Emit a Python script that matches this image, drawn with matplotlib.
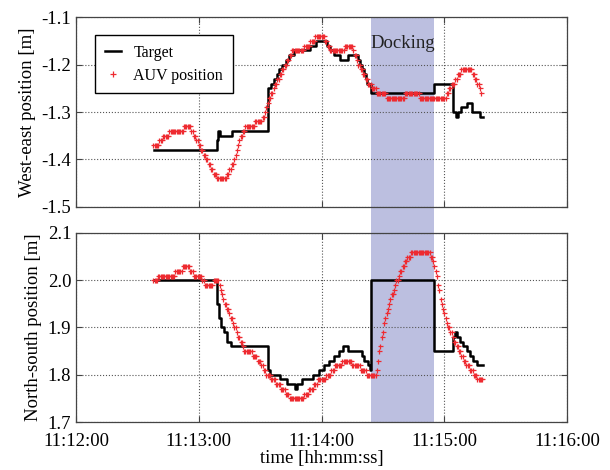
#!/usr/bin/env python3

import numpy as np
import matplotlib
matplotlib.use('Agg')
import matplotlib.pyplot as plt
from matplotlib.patches import Rectangle
from matplotlib.transforms import blended_transform_factory

plt.rcParams['font.family'] = ['Liberation Serif', 'DejaVu Serif']
plt.rcParams['axes.unicode_minus'] = False

# time axis: seconds after 11:12:00
TICK_SECONDS = [0, 60, 120, 180, 240]
TICK_LABELS = ['11:12:00', '11:13:00', '11:14:00', '11:15:00', '11:16:00']
DOCK_START = 144.2
DOCK_END = 175.0

# AUV position log: sampled every 0.6 s from 37.8 s, stored as
# (level, number of consecutive samples at that level)
AUV_T0 = 37.8
AUV_DT = 0.6
we_level = [
    -1.37, -1.36, -1.35, -1.34, -1.33, -1.34, -1.35, -1.36, -1.37, -1.38,
    -1.39, -1.40, -1.41, -1.42, -1.43, -1.44, -1.43, -1.42, -1.41, -1.40,
    -1.39, -1.38, -1.37, -1.36, -1.35, -1.34, -1.33, -1.32, -1.31, -1.30,
    -1.29, -1.28, -1.27, -1.26, -1.25, -1.24, -1.23, -1.22, -1.21, -1.20,
    -1.19, -1.18, -1.17, -1.16, -1.15, -1.14, -1.15, -1.16, -1.17, -1.16,
    -1.17, -1.18, -1.19, -1.20, -1.21, -1.22, -1.23, -1.24, -1.25, -1.26,
    -1.27, -1.26, -1.27, -1.26, -1.25, -1.24, -1.23, -1.22, -1.21, -1.22,
    -1.23, -1.24, -1.25, -1.26,
]
we_count = [
    5, 3, 5, 12, 6, 2, 2, 2, 2, 2,
    2, 2, 2, 2, 3, 8, 2, 2, 2, 1,
    1, 1, 1, 1, 2, 2, 8, 6, 2, 1,
    1, 1, 2, 2, 1, 2, 2, 2, 2, 2,
    2, 2, 10, 5, 4, 8, 2, 2, 12, 7,
    1, 2, 1, 2, 2, 2, 2, 3, 4, 8,
    15, 12, 22, 2, 2, 3, 2, 3, 9, 2,
    2, 2, 1, 1,
]
ns_level = [
    2.00, 2.01, 2.02, 2.03, 2.02, 2.01, 2.00, 1.99, 2.00, 1.99,
    1.98, 1.97, 1.96, 1.95, 1.94, 1.93, 1.92, 1.91, 1.90, 1.89,
    1.88, 1.87, 1.86, 1.85, 1.84, 1.83, 1.82, 1.81, 1.80, 1.79,
    1.78, 1.77, 1.76, 1.75, 1.76, 1.77, 1.78, 1.79, 1.80, 1.81,
    1.82, 1.83, 1.82, 1.81, 1.80, 1.81, 1.83, 1.85, 1.86, 1.88,
    1.89, 1.91, 1.92, 1.93, 1.94, 1.95, 1.96, 1.97, 1.98, 1.99,
    2.00, 2.01, 2.02, 2.03, 2.04, 2.05, 2.06, 2.05, 2.04, 2.03,
    2.02, 2.01, 1.99, 1.98, 1.96, 1.95, 1.94, 1.93, 1.92, 1.91,
    1.90, 1.89, 1.88, 1.87, 1.86, 1.85, 1.84, 1.83, 1.82, 1.81,
    1.80, 1.79,
]
ns_count = [
    4, 14, 6, 6, 3, 7, 2, 7, 5, 1,
    1, 1, 1, 2, 2, 1, 2, 1, 2, 1,
    2, 2, 1, 7, 4, 3, 2, 2, 4, 4,
    4, 4, 3, 12, 4, 4, 3, 7, 4, 3,
    6, 8, 7, 5, 8, 1, 1, 1, 1, 1,
    1, 1, 1, 1, 1, 1, 1, 2, 1, 1,
    2, 1, 2, 2, 2, 3, 16, 2, 1, 1,
    1, 1, 1, 1, 1, 1, 1, 1, 1, 1,
    2, 2, 1, 2, 2, 2, 2, 2, 3, 3,
    3, 5,
]

# target set-points (step changes)
tgt_we_t = [38.1, 69.0, 69.5, 70.5, 76.4, 94.0, 95.5, 97.0, 98.3, 99.4,
            100.9, 102.5, 103.9, 106.5, 114.5, 117.5, 122.5, 124.3, 126.0, 129.2,
            132.8, 138.0, 138.8, 139.9, 140.8, 141.6, 142.4, 144.2, 175.0, 184.4,
            185.8, 186.6, 188.3, 191.0, 193.6, 197.5, 199.0]
tgt_we = [-1.38, -1.36, -1.34, -1.35, -1.34, -1.25, -1.24, -1.23, -1.22, -1.21,
          -1.20, -1.19, -1.18, -1.17, -1.16, -1.15, -1.16, -1.17, -1.18, -1.19,
          -1.18, -1.19, -1.20, -1.21, -1.22, -1.23, -1.24, -1.26, -1.24, -1.30,
          -1.31, -1.30, -1.29, -1.28, -1.30, -1.31, -1.31]

tgt_ns_t = [38.1, 68.8, 69.7, 70.8, 72.4, 74.0, 75.6, 94.0, 94.8, 99.6,
            103.3, 106.8, 107.8, 110.5, 115.7, 118.6, 121.0, 123.5, 125.9, 128.3,
            130.4, 133.0, 139.6, 141.0, 142.5, 143.5, 144.3, 175.0, 184.4, 185.2,
            186.0, 187.7, 189.3, 191.0, 192.6, 194.2, 195.9, 199.0]
tgt_ns = [2.00, 1.95, 1.92, 1.90, 1.89, 1.87, 1.86, 1.81, 1.80, 1.79,
          1.78, 1.77, 1.78, 1.79, 1.80, 1.81, 1.82, 1.83, 1.84, 1.85,
          1.86, 1.85, 1.84, 1.83, 1.82, 1.81, 2.00, 1.85, 1.88, 1.89,
          1.88, 1.87, 1.86, 1.85, 1.84, 1.83, 1.82, 1.82]


def expand_log(levels, counts):
    vals = np.repeat(levels, counts)
    t = AUV_T0 + AUV_DT * np.arange(len(vals))
    return t, vals


def style_axis(ax, ylim, yticks):
    ax.set_facecolor('none')
    ax.set_xlim(TICK_SECONDS[0], TICK_SECONDS[-1])
    ax.set_ylim(*ylim)
    ax.set_xticks(TICK_SECONDS)
    ax.set_yticks(yticks)
    ax.set_yticklabels([f'{v:.1f}' for v in yticks])
    ax.grid(True, linestyle=':', color='#555555', linewidth=0.8)
    ax.tick_params(direction='in', top=True, right=True, length=4,
                   labelsize=13.5, color='#444444')
    ax.tick_params(axis='x', pad=8)
    for sp in ax.spines.values():
        sp.set_color('#444444')
        sp.set_linewidth(0.9)


fig = plt.figure(figsize=(6.1, 4.7), dpi=100)
ax_top = fig.add_axes([0.1246, 0.5596, 0.805, 0.4042])
ax_bot = fig.add_axes([0.1246, 0.1021, 0.805, 0.4022])

we_t, we_vals = expand_log(we_level, we_count)
ns_t, ns_vals = expand_log(ns_level, ns_count)

auv_style = dict(linestyle='none', marker='+', ms=3.6, mew=0.9,
                 color='#ee2a30', zorder=4)
ax_top.plot(tgt_we_t, tgt_we, drawstyle='steps-post', color='black', lw=1.8,
            label='Target', zorder=3)
ax_top.plot(we_t, we_vals, label='AUV position', **auv_style)
ax_bot.plot(tgt_ns_t, tgt_ns, drawstyle='steps-post', color='black', lw=1.8,
            zorder=3)
ax_bot.plot(ns_t, ns_vals, **auv_style)

style_axis(ax_top, (-1.5, -1.1), [-1.5, -1.4, -1.3, -1.2, -1.1])
style_axis(ax_bot, (1.7, 2.1), [1.7, 1.8, 1.9, 2.0, 2.1])
ax_top.set_xticklabels([])
ax_bot.set_xticklabels(TICK_LABELS)

ax_top.set_ylabel('West-east position [m]', fontsize=13.5, labelpad=4)
ax_bot.set_ylabel('North-south position [m]', fontsize=13.5, labelpad=4)
ax_bot.set_xlabel('time [hh:mm:ss]', fontsize=13.5, labelpad=0)

# docking band spanning both panels
trans = blended_transform_factory(ax_bot.transData, fig.transFigure)
fig.add_artist(Rectangle((DOCK_START, 0.1021), DOCK_END - DOCK_START,
                         0.9638 - 0.1021, transform=trans,
                         facecolor='#bcbfe0', edgecolor='none', zorder=-1))
ax_top.text((DOCK_START + DOCK_END) / 2, -1.155, 'Docking', ha='center',
            va='center', fontsize=13.5, color='#222222')

leg = ax_top.legend(loc='upper left', bbox_to_anchor=(0.039, 0.905),
                    borderaxespad=0, fontsize=11.5, fancybox=False,
                    framealpha=1, edgecolor='black', handlelength=1.0,
                    handletextpad=0.8, borderpad=0.6, labelspacing=0.45,
                    numpoints=1, markerscale=1.2)
leg.get_frame().set_linewidth(1.0)

fig.savefig('out.png', dpi=100)
